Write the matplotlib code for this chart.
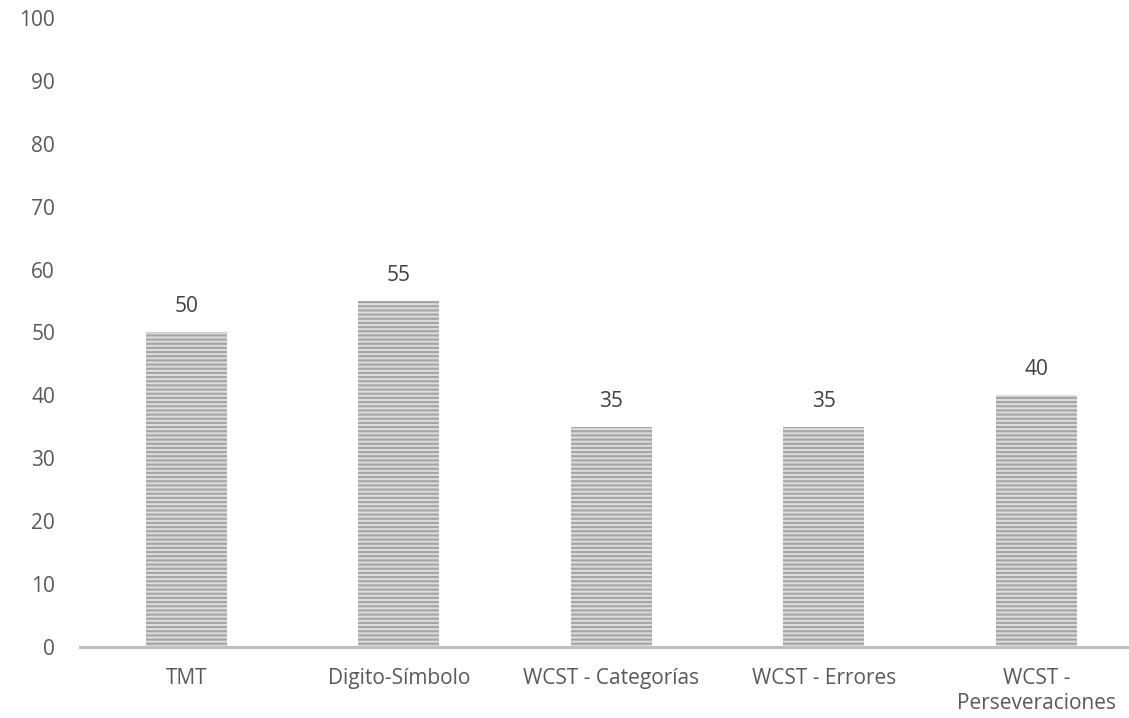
import matplotlib.pyplot as plt

categories = ["TMT", "Digito-Símbolo", "WCST - Categorías", "WCST - Errores", "WCST -\nPerseveraciones"]
values = [50, 55, 35, 35, 40]
yticks = [0, 10, 20, 30, 40, 50, 60, 70, 80, 90, 100]

plt.rcParams['font.family'] = ['Open Sans', 'DejaVu Sans']
plt.rcParams['hatch.linewidth'] = 1.6
plt.rcParams['hatch.color'] = '#a6a6a6'

fig = plt.figure(figsize=(11.29, 7.18), dpi=100)
# axes runs a little past the right edge, like the original
ax = fig.add_axes([0.0709, 0.099, 0.9411, 0.876])

x = range(len(categories))
ax.bar(x, values, width=0.38, color='#dedede', edgecolor='#a6a6a6',
       hatch='----', linewidth=0)

for xi, v in zip(x, values):
    ax.annotate(str(v), (xi, v), xytext=(0, 11), textcoords='offset points',
                ha='center', va='bottom', fontsize=15, color='#404040')

ax.set_xlim(-0.5, len(categories) - 0.5)
ax.set_ylim(0, 100)
ax.set_yticks(yticks)
ax.set_xticks(list(x))
ax.set_xticklabels(categories, fontsize=15, color='#595959', linespacing=1.25)
ax.tick_params(axis='y', labelsize=15, labelcolor='#595959', length=0, pad=18)
ax.tick_params(axis='x', length=0, pad=15)

for side in ['top', 'right', 'left']:
    ax.spines[side].set_visible(False)
ax.spines['bottom'].set_color('#bfbfbf')
ax.spines['bottom'].set_linewidth(2.2)

fig.savefig('out.png', dpi=100)
